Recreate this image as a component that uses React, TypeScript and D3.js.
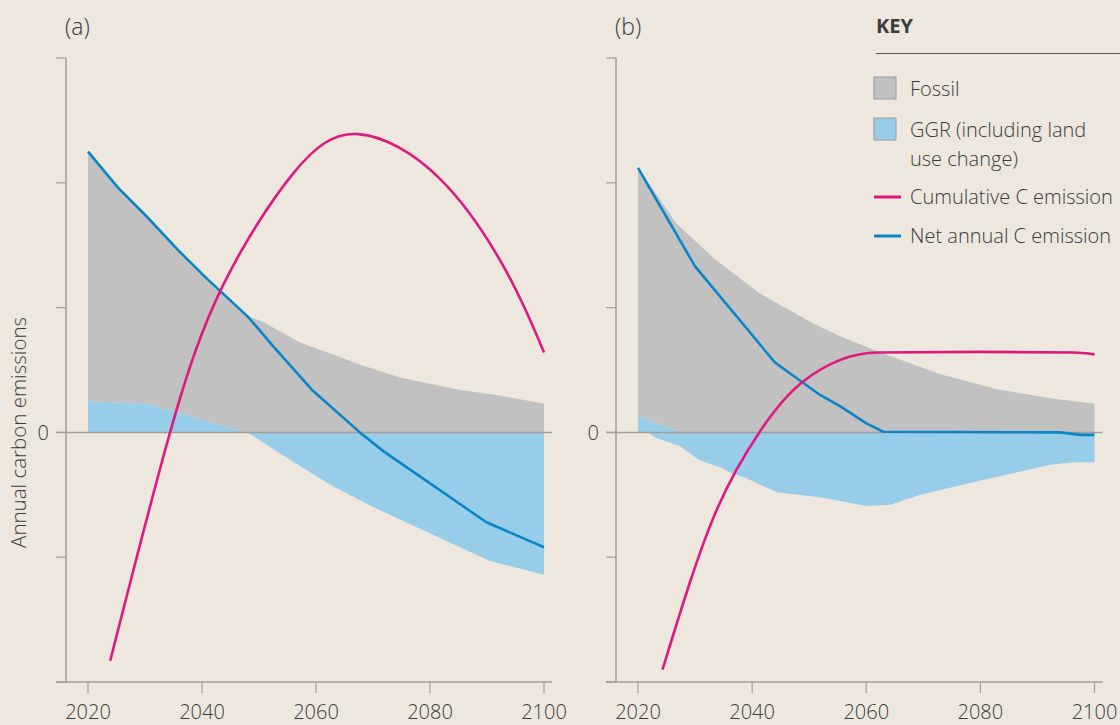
import React from 'react';
import * as d3 from 'd3';

// Values, [year, value]; 1 unit = one y tick step
const aFossilTop: [number, number][] = [
  [2020, 2.25], [2025.3, 1.96], [2030.3, 1.73], [2035.6, 1.47], [2040.9, 1.23], [2048, 0.93],
  [2050.5, 0.89], [2057.2, 0.72], [2062, 0.64], [2067.7, 0.545], [2074.7, 0.44], [2080, 0.39],
  [2085.3, 0.34], [2091.7, 0.30], [2100, 0.23],
];
const aGgrPos: [number, number][] = [[2020, 0.25], [2030.3, 0.23], [2047.8, 0], [2100, 0]];
const aGgrNeg: [number, number][] = [
  [2048, 0], [2056.1, -0.24], [2062.9, -0.43], [2070.1, -0.6], [2090.5, -1.03], [2100, -1.14],
];
const aNet: [number, number][] = [
  [2020, 2.25], [2025.3, 1.96], [2030.3, 1.73], [2035.6, 1.47], [2040.9, 1.23], [2048, 0.93],
  [2052.5, 0.69], [2059.3, 0.34], [2067.7, 0], [2071.8, -0.15], [2089.9, -0.72], [2100, -0.92],
];
const aCumulative: [number, number][] = [
  [2023.9, -1.83], [2034.4, 0], [2043.6, 1.17], [2055.9, 2.07], [2067.4, 2.39],
  [2081.8, 2.03], [2093.5, 1.28], [2100, 0.64],
];

const bFossilTop: [number, number][] = [
  [2020, 2.12], [2026.8, 1.67], [2033.2, 1.4], [2041.1, 1.12], [2050.8, 0.87], [2055.4, 0.77],
  [2062.5, 0.64], [2073, 0.465], [2082.9, 0.345], [2092.9, 0.27], [2100, 0.23],
];
const bGgrPos: [number, number][] = [[2020, 0.13], [2027.4, 0], [2100, 0]];
const bGgrNeg: [number, number][] = [
  [2021.8, 0], [2023, -0.04], [2027.4, -0.11], [2030.6, -0.22], [2034.4, -0.28], [2036.1, -0.32],
  [2039.1, -0.37], [2044.3, -0.48], [2051.9, -0.52], [2060.1, -0.59], [2064.2, -0.58],
  [2069.5, -0.5], [2080.6, -0.38], [2092.3, -0.26], [2096.3, -0.24], [2100, -0.24],
];
const bNet: [number, number][] = [
  [2020, 2.12], [2030, 1.33], [2044, 0.56], [2051.9, 0.3], [2055.4, 0.21], [2060.1, 0.07],
  [2063, 0.005], [2094, 0.0], [2097.5, -0.02], [2100, -0.02],
];
const bCumulative: [number, number][] = [
  [2024.3, -1.9], [2033.8, -0.62], [2041.4, 0.01], [2049, 0.41], [2062, 0.64],
  [2080, 0.645], [2096.4, 0.64], [2100, 0.625],
];

const yearTicks = [2020, 2040, 2060, 2080, 2100];
const valueTicks = [-2, -1, 0, 1, 2, 3];
const legendItems = ['Fossil', 'GGR (including land', 'use change)', 'Cumulative C emission', 'Net annual C emission'];

const W = 1120;
const H = 725;
const BG = '#ede7de';
const AXIS = '#a59d95';
const TEXT = '#3b3b3b';
const FOSSIL = '#c1c1c1';
const GGR = '#98cdea';
const NET = '#0a85c7';
const CUM = '#dd1a80';
const FONT = '"Open Sans", Lato, sans-serif';

const y = d3.scaleLinear().domain([-2, 3]).range([682, 58]);

type PanelProps = {
  label: string;
  axisX: number;
  x0: number;
  x1: number;
  fossilTop: [number, number][];
  ggrPos: [number, number][];
  ggrNeg: [number, number][];
  net: [number, number][];
  cumulative: [number, number][];
  curve: d3.CurveFactory;
  showYLabels: boolean;
};

const Panel = ({ label, axisX, x0, x1, fossilTop, ggrPos, ggrNeg, net, cumulative, curve, showYLabels }: PanelProps) => {
  const x = d3.scaleLinear().domain([2020, 2100]).range([x0, x1]);
  const line = d3.line<[number, number]>().x(d => x(d[0])).y(d => y(d[1]));
  const smooth = d3.line<[number, number]>().x(d => x(d[0])).y(d => y(d[1])).curve(curve);
  const area = d3.area<[number, number]>().x(d => x(d[0])).y0(y(0)).y1(d => y(d[1]));

  // gray band sits on top of any positive GGR
  const fossilPoly = line([...fossilTop, ...[...ggrPos].reverse()]) + 'Z';
  const left = axisX - 10;
  const right = x1 + 8;

  return (
    <g>
      <path d={fossilPoly} fill={FOSSIL} />
      <path d={area(ggrPos) ?? ''} fill={GGR} />
      <path d={area(ggrNeg) ?? ''} fill={GGR} />
      <line x1={left} x2={right} y1={y(0)} y2={y(0)} stroke={AXIS} strokeWidth={1.5} />

      {/* axes */}
      <line x1={axisX} x2={axisX} y1={y(3)} y2={y(-2)} stroke={AXIS} strokeWidth={1.5} />
      {valueTicks.map(v => (
        <line key={v} x1={left} x2={axisX} y1={y(v)} y2={y(v)} stroke={AXIS} strokeWidth={1.2} />
      ))}
      <line x1={left} x2={right} y1={y(-2)} y2={y(-2)} stroke={AXIS} strokeWidth={1.5} />
      {yearTicks.map(t => (
        <g key={t}>
          <line x1={x(t)} x2={x(t)} y1={y(-2)} y2={y(-2) + 11} stroke={AXIS} strokeWidth={1.2} />
          <text x={x(t)} y={719} textAnchor="middle" fontSize={20} fill={TEXT} fontWeight={300}>{t}</text>
        </g>
      ))}
      <text x={axisX - 17} y={y(0) + 7.5} textAnchor="end" fontSize={20} fill={TEXT} fontWeight={300}>0</text>
      {showYLabels && (
        <text transform={`translate(26, ${y(0)}) rotate(-90)`} textAnchor="middle" fontSize={20.5} fill={TEXT} fontWeight={300}>
          Annual carbon emissions
        </text>
      )}
      <text x={axisX - 1} y={35} fontSize={23} fill={TEXT} fontWeight={300}>{label}</text>

      <path d={line(net) ?? ''} fill="none" stroke={NET} strokeWidth={2.6} strokeLinejoin="round" />
      <path d={smooth(cumulative) ?? ''} fill="none" stroke={CUM} strokeWidth={2.6} />
    </g>
  );
};

const Legend = () => {
  const lx = 874;
  const tx = 910;
  return (
    <g fontSize={20} fill={TEXT} fontWeight={300}>
      <text x={876} y={33} fontWeight={700} fontSize={20}>KEY</text>
      <line x1={876} x2={W} y1={53.5} y2={53.5} stroke="#555" strokeWidth={1.2} />
      <rect x={lx} y={77} width={22} height={22} fill={FOSSIL} stroke="#9c9c9c" strokeWidth={1} />
      <text x={tx} y={96}>{legendItems[0]}</text>
      <rect x={lx} y={118} width={22} height={22} fill={GGR} stroke="#9c9c9c" strokeWidth={1} />
      <text x={tx} y={137}>{legendItems[1]}</text>
      <text x={tx} y={166}>{legendItems[2]}</text>
      <line x1={lx} x2={901} y1={197} y2={197} stroke={CUM} strokeWidth={3} />
      <text x={tx} y={204}>{legendItems[3]}</text>
      <line x1={lx} x2={901} y1={236} y2={236} stroke={NET} strokeWidth={3} />
      <text x={tx} y={243}>{legendItems[4]}</text>
    </g>
  );
};

export default function App() {
  return (
    <svg width={W} height={H} style={{ position: 'absolute', left: 0, top: 0, fontFamily: FONT }}>
      <rect width={W} height={H} fill={BG} />
      <Panel label="(a)" axisX={66} x0={88} x1={544} fossilTop={aFossilTop} ggrPos={aGgrPos}
        ggrNeg={aGgrNeg} net={aNet} cumulative={aCumulative} curve={d3.curveNatural} showYLabels />
      <Panel label="(b)" axisX={616} x0={638} x1={1094.5} fossilTop={bFossilTop} ggrPos={bGgrPos}
        ggrNeg={bGgrNeg} net={bNet} cumulative={bCumulative} curve={d3.curveMonotoneX} showYLabels={false} />
      <Legend />
    </svg>
  );
}
